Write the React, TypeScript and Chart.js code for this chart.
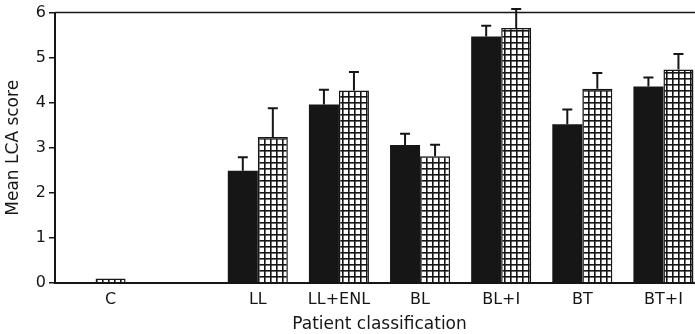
import React, { useEffect, useRef } from "react";
import { Chart, registerables } from "chart.js";

Chart.register(...registerables);

const categories = ["C", "", "LL", "LL+ENL", "BL", "BL+I", "BT", "BT+I"];
const solidValues = [null, null, 2.49, 3.96, 3.06, 5.47, 3.52, 4.36];
const solidErrors = [null, null, 0.3, 0.33, 0.25, 0.24, 0.33, 0.2];
const hatchedValues = [0.1, null, 3.24, 4.27, 2.81, 5.66, 4.31, 4.74];
const hatchedErrors = [null, null, 0.64, 0.41, 0.26, 0.42, 0.35, 0.34];
const yTicks = [0, 1, 2, 3, 4, 5, 6];

const INK = "#161616";

function makePattern(): CanvasPattern | string {
  const c = document.createElement("canvas");
  c.width = 6;
  c.height = 6;
  const g = c.getContext("2d");
  if (!g) return "#fff";
  g.fillStyle = "#ffffff";
  g.fillRect(0, 0, 6, 6);
  g.fillStyle = INK;
  g.fillRect(0, 0, 6, 1.6);
  g.fillRect(0, 0, 1.6, 6);
  const p = g.createPattern(c, "repeat");
  return p || "#fff";
}

const errorBarPlugin = {
  id: "errorBars",
  afterDatasetsDraw(chart: any) {
    const ctx = chart.ctx;
    const yScale = chart.scales.y;
    const errs = [solidErrors, hatchedErrors];
    ctx.save();
    ctx.strokeStyle = INK;
    ctx.lineWidth = 2;
    chart.data.datasets.forEach((ds: any, di: number) => {
      const meta = chart.getDatasetMeta(di);
      meta.data.forEach((el: any, i: number) => {
        const v = ds.data[i];
        const e = errs[di][i];
        if (v == null || e == null) return;
        const yTop = yScale.getPixelForValue(v + e);
        ctx.beginPath();
        ctx.moveTo(el.x, el.y);
        ctx.lineTo(el.x, yTop);
        ctx.moveTo(el.x - 5, yTop);
        ctx.lineTo(el.x + 5, yTop);
        ctx.stroke();
      });
    });
    ctx.restore();
  },
};

const framePlugin = {
  id: "frameAndLabels",
  afterDraw(chart: any) {
    const ctx = chart.ctx;
    const { left, top, bottom } = chart.chartArea;
    ctx.save();
    ctx.strokeStyle = INK;
    ctx.lineWidth = 1.5;
    ctx.beginPath();
    ctx.moveTo(left, top);
    ctx.lineTo(chart.width, top);
    ctx.stroke();

    ctx.fillStyle = INK;
    ctx.font = '16px "DejaVu Sans"';
    ctx.textAlign = "center";
    ctx.textBaseline = "middle";
    categories.forEach((lab, i) => {
      if (!lab) return;
      const xs: number[] = [];
      chart.data.datasets.forEach((ds: any, di: number) => {
        if (ds.data[i] != null) xs.push(chart.getDatasetMeta(di).data[i].x);
      });
      const x = xs.length
        ? xs.reduce((a, b) => a + b, 0) / xs.length
        : chart.scales.x.getPixelForValue(i);
      ctx.fillText(lab, x, bottom + 17);
    });
    ctx.restore();
  },
};

export default function App() {
  const ref = useRef<HTMLCanvasElement | null>(null);

  useEffect(() => {
    if (!ref.current) return;
    const pattern = makePattern();
    const chart = new Chart(ref.current, {
      type: "bar",
      data: {
        labels: categories,
        datasets: [
          {
            label: "Solid",
            data: solidValues,
            backgroundColor: INK,
            borderWidth: 0,
          },
          {
            label: "Hatched",
            data: hatchedValues,
            backgroundColor: pattern as any,
            borderColor: INK,
            borderWidth: 1.5,
          },
        ],
      },
      options: {
        animation: false,
        responsive: false,
        maintainAspectRatio: false,
        devicePixelRatio: 1,
        layout: { padding: { top: 12, left: 1, right: 2, bottom: 0 } },
        datasets: {
          bar: { categoryPercentage: 0.74, barPercentage: 1.0 },
        },
        plugins: {
          legend: { display: false },
          tooltip: { enabled: false },
        },
        scales: {
          x: {
            afterFit: (s: any) => {
              s.height = 51;
            },
            grid: { display: false },
            border: { display: true, color: INK, width: 2 },
            ticks: { color: "rgba(0,0,0,0)", font: { family: "DejaVu Sans", size: 16 } },
            title: {
              display: true,
              text: "Patient classification",
              color: INK,
              font: { family: "DejaVu Sans", size: 17, lineHeight: 1 },
              padding: { top: 0, bottom: 0.5 },
            },
          },
          y: {
            min: 0,
            max: 6,
            afterFit: (s: any) => {
              s.width = 54;
            },
            afterBuildTicks: (s: any) => {
              s.ticks = yTicks.map((v) => ({ value: v }));
            },
            grid: {
              display: true,
              drawOnChartArea: false,
              drawTicks: true,
              tickLength: 6,
              color: INK,
              lineWidth: 1.5,
            },
            border: { display: true, color: INK, width: 2 },
            ticks: {
              color: INK,
              padding: 3,
              font: { family: "DejaVu Sans", size: 16 },
            },
            title: {
              display: true,
              text: "Mean LCA score",
              color: INK,
              font: { family: "DejaVu Sans", size: 17, lineHeight: 1 },
              padding: { top: 4.5, bottom: 0 },
            },
          },
        },
      },
      plugins: [errorBarPlugin, framePlugin],
    });
    return () => chart.destroy();
  }, []);

  return (
    <div
      style={{
        position: "fixed",
        left: 0,
        top: 0,
        width: 695,
        height: 334,
        overflow: "hidden",
        background: "#ffffff",
      }}
    >
      <canvas ref={ref} width={706} height={334} style={{ width: 706, height: 334, display: "block" }} />
    </div>
  );
}
